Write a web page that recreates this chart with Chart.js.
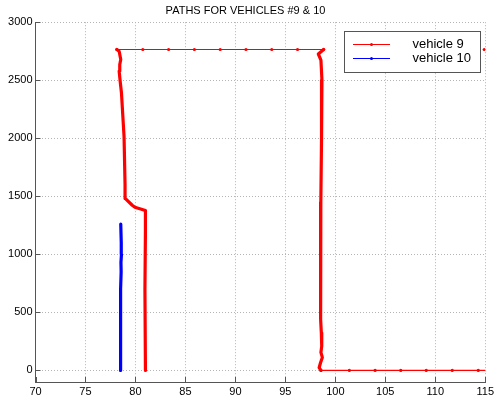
<!DOCTYPE html>
<html>
<head>
<meta charset="utf-8">
<title>Paths for vehicles #9 & 10</title>
<script src="https://cdn.jsdelivr.net/npm/chart.js@4.4.0/dist/chart.umd.min.js"></script>
<style>
	body { margin: 0; background: #fff; }
	#wrap { width: 497px; height: 400px; }
</style>
</head>
<body>
<div id="wrap"><canvas id="pathChart" width="497" height="400"></canvas></div>
<script>
// axis ticks
var xTicks = [70, 75, 80, 85, 90, 95, 100, 105, 110, 115];
var yTicks = [0, 500, 1000, 1500, 2000, 2500, 3000];

// vehicle 9 - left leg, bottom up
var v9LeftX = [81.0, 80.95, 81.0, 81.0, 79.95, 79.68, 79.0, 78.96, 78.86, 78.6, 78.47, 78.37, 78.43, 78.53, 78.37, 78.14];
var v9LeftY = [0, 700, 1200, 1378, 1406, 1423, 1480, 1600, 2015, 2392, 2492, 2578, 2636, 2679, 2750, 2765];

// vehicle 9 - top run (sparse samples)
var v9TopX = [78.14, 80.74, 83.32, 85.9, 88.48, 91.06, 93.64, 96.22, 98.83];
var v9TopY = [2765, 2765, 2765, 2765, 2765, 2765, 2765, 2765, 2765];

// vehicle 9 - right leg, top down
var v9RightX = [98.83, 98.3, 98.56, 98.66, 98.62, 98.55, 98.52, 98.48, 98.56, 98.56, 98.6, 98.64, 98.56, 98.7, 98.52, 98.38, 98.56];
var v9RightY = [2765, 2726, 2674, 2502, 2000, 1450, 1200, 725, 611, 439, 324, 209, 155, 112, 66, 23, 0];

// vehicle 9 - bottom run (sparse samples)
var v9BottomX = [98.56, 101.4, 103.98, 106.55, 109.1, 111.7, 114.3, 116.9];
var v9BottomY = [0, 0, 0, 0, 0, 0, 0, 0];

// vehicle 9 - stray sample at top right edge
var v9StrayX = [114.9, 117.5];
var v9StrayY = [2765, 2765];

// vehicle 10
var v10X = [78.5, 78.5, 78.53, 78.57, 78.55, 78.6, 78.58, 78.53];
var v10Y = [0, 500, 700, 850, 930, 1000, 1100, 1260];

var RED = '#ff0000';
var BLUE = '#0000ff';
var FONT = 'Liberation Sans, Arial, sans-serif';

function toPoints(xs, ys) {
	return xs.map(function(x, i) { return { x: x, y: ys[i] }; });
}

function thick(label, xs, ys, color) {
	return { label: label, data: toPoints(xs, ys), showLine: true, borderColor: color, backgroundColor: color,
		borderWidth: 3.2, pointRadius: 0, clip: 0, borderJoinStyle: 'round', borderCapStyle: 'round' };
}

function thin(label, xs, ys, color) {
	return { label: label, data: toPoints(xs, ys), showLine: true, borderColor: color, backgroundColor: color,
		borderWidth: 1.2, pointRadius: 1.6, pointBorderWidth: 0, clip: 0 };
}

// inward ticks, matlab style
var innerTicks = {
	id: 'innerTicks',
	beforeDatasetsDraw: function(chart) {
		var ctx = chart.ctx, a = chart.chartArea;
		var sx = chart.scales.x, sy = chart.scales.y;
		ctx.save();
		ctx.strokeStyle = '#555';
		ctx.lineWidth = 1;
		sx.ticks.forEach(function(t) {
			var px = Math.round(sx.getPixelForValue(t.value)) + 0.5;
			ctx.beginPath(); ctx.moveTo(px, a.bottom); ctx.lineTo(px, a.bottom - 5); ctx.stroke();
		});
		sy.ticks.forEach(function(t) {
			var py = Math.round(sy.getPixelForValue(t.value)) + 0.5;
			ctx.beginPath(); ctx.moveTo(a.left, py); ctx.lineTo(a.left + 5, py); ctx.stroke();
		});
		ctx.restore();
	}
};

// boxed legend with line + dot samples
var boxLegend = {
	id: 'boxLegend',
	afterDatasetsDraw: function(chart) {
		var ctx = chart.ctx;
		var items = [{ text: 'vehicle 9', color: RED }, { text: 'vehicle 10', color: BLUE }];
		ctx.save();
		ctx.fillStyle = '#fff';
		ctx.fillRect(344.5, 31.5, 136, 41);
		ctx.strokeStyle = '#555';
		ctx.lineWidth = 1;
		ctx.strokeRect(344.5, 31.5, 136, 41);
		items.forEach(function(it, i) {
			var y = 44.5 + i * 14;
			ctx.strokeStyle = it.color;
			ctx.beginPath(); ctx.moveTo(353, y); ctx.lineTo(390, y); ctx.stroke();
			ctx.fillStyle = it.color;
			ctx.beginPath(); ctx.arc(371.5, y, 1.5, 0, Math.PI * 2); ctx.fill();
			ctx.fillStyle = '#000';
			ctx.font = '13px ' + FONT;
			ctx.textBaseline = 'middle';
			ctx.fillText(it.text, 412.5, y);
		});
		ctx.restore();
	}
};

var ctx = document.getElementById('pathChart').getContext('2d');
var chart = new Chart(ctx, {
	type: 'scatter',
	data: {
		datasets: [
			thick('vehicle 9', v9LeftX, v9LeftY, RED),
			thin('vehicle 9', v9TopX, v9TopY, RED),
			thick('vehicle 9', v9RightX, v9RightY, RED),
			thin('vehicle 9', v9BottomX, v9BottomY, RED),
			thin('vehicle 9', v9StrayX, v9StrayY, RED),
			thick('vehicle 10', v10X, v10Y, BLUE)
		]
	},
	options: {
		responsive: false,
		animation: false,
		layout: { autoPadding: false, padding: { left: 0, right: 6, top: 0, bottom: 0 } },
		plugins: {
			legend: { display: false },
			tooltip: { enabled: false },
			title: {
				display: true,
				text: 'PATHS FOR VEHICLES #9 & 10',
				color: '#000',
				font: { family: FONT, size: 11, weight: 'normal' },
				padding: { top: 4, bottom: 5 }
			}
		},
		scales: {
			x: {
				type: 'linear', min: 70, max: 115,
				afterBuildTicks: function(s) { s.ticks = xTicks.map(function(v) { return { value: v }; }); },
				afterFit: function(s) { s.height = 18; },
				grid: { color: '#b4b4b4', drawTicks: false },
				border: { color: '#555', dash: [1, 2] },
				ticks: { color: '#000', font: { family: FONT, size: 11 }, padding: 3, maxRotation: 0, autoSkip: false,
					callback: function(v) { return String(v); } }
			},
			y: {
				type: 'linear', min: -100, max: 3000,
				afterBuildTicks: function(s) { s.ticks = yTicks.map(function(v) { return { value: v }; }); },
				afterFit: function(s) { s.width = 35.5; },
				grid: { color: '#b4b4b4', drawTicks: false },
				border: { color: '#555', dash: [1, 2] },
				ticks: { color: '#000', font: { family: FONT, size: 11 }, padding: 3,
					callback: function(v) { return String(v); } }
			}
		}
	},
	plugins: [innerTicks, boxLegend]
});
</script>
</body>
</html>
